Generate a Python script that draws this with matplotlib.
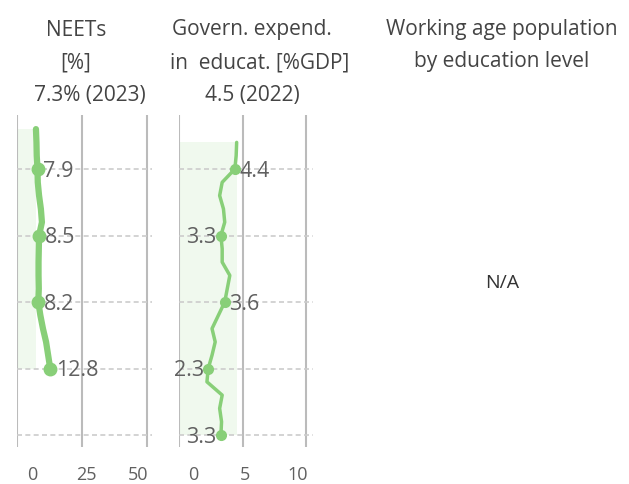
import numpy as np
import matplotlib
matplotlib.use("Agg")
import matplotlib.pyplot as plt

plt.rcParams['font.family'] = ['Open Sans', 'DejaVu Sans']

# NEETs [%], 2005-2023
neet_years = list(range(2005, 2024))
neet_vals = [12.8, 12.0, 11.2, 10.0, 9.0, 8.2, 8.4, 8.3, 8.3, 8.4,
             8.5, 9.6, 9.2, 8.5, 8.0, 7.9, 7.6, 7.5, 7.3]
neet_mark_years = [2005, 2010, 2015, 2020]
neet_mark_vals = [12.8, 8.2, 8.5, 7.9]

# government expenditure on education [%GDP], 2000-2022
edu_years = list(range(2000, 2023))
edu_vals = [3.3, 3.35, 3.2, 3.4, 2.2, 2.3, 2.6, 2.85, 2.6, 3.1, 3.6, 3.8,
            4.0, 3.4, 3.4, 3.3, 3.6, 3.5, 3.2, 3.4, 4.4, 4.5, 4.54]
edu_mark_years = [2000, 2005, 2010, 2015, 2020]
edu_mark_vals = [3.3, 2.3, 3.6, 3.3, 4.4]
edu_label_side = ['left', 'left', 'right', 'left', 'right']

grid_years = [2000, 2005, 2010, 2015, 2020]
green = '#88cf78'
txt = '#606060'

W, H = 629, 484
fig = plt.figure(figsize=(W / 100, H / 100), dpi=100)


def px_axes(x0, x1, y0, y1):
    return fig.add_axes([x0 / W, 1 - y1 / H, (x1 - x0) / W, (y1 - y0) / H])


def style(ax, xticks, xmax):
    ax.set_xlim(0, xmax)
    ax.set_ylim(1999.1, 2024.06)
    for s in ax.spines.values():
        s.set_visible(False)
    ax.set_xticks([])
    ax.set_yticks([])
    for x in xticks:
        ax.axvline(x, color='#bbbbbb', lw=1.5, zorder=1)
    for y in grid_years:
        ax.axhline(y, color='#cccccc', lw=1.2, ls=(0, (3, 2)), zorder=1)


# panel 1 (shade spans from 0 to the latest value)
ax1 = px_axes(17, 152, 115, 447)
style(ax1, [0, 25, 50], 52)
ax1.fill_betweenx([min(neet_years), max(neet_years)], 0, neet_vals[-1],
                  color=green, alpha=0.12, lw=0, zorder=0)
ax1.plot(neet_vals, neet_years, color=green, lw=4.5, solid_capstyle='round', zorder=3)
ax1.plot(neet_mark_vals, neet_mark_years, 'o', color=green, ms=9, zorder=4)
for v, y in zip(neet_mark_vals, neet_mark_years):
    ax1.annotate(f'{v}', (v, y), xytext=(4, -1.5), textcoords='offset points',
                 ha='left', va='center', fontsize=15.5, color=txt, zorder=5)

# panel 2
ax2 = px_axes(179, 313, 115, 447)
style(ax2, [0, 5, 10], 10.55)
ax2.fill_betweenx([min(edu_years), max(edu_years)], 0, edu_vals[-1],
                  color=green, alpha=0.12, lw=0, zorder=0)
ax2.plot(edu_vals, edu_years, color=green, lw=2.5, solid_capstyle='round', zorder=3)
ax2.plot(edu_mark_vals, edu_mark_years, 'o', color=green, ms=7, zorder=4)
for v, y, side in zip(edu_mark_vals, edu_mark_years, edu_label_side):
    dx = 3 if side == 'right' else -3
    ax2.annotate(f'{v}', (v, y), xytext=(dx, -1.5), textcoords='offset points',
                 ha='left' if side == 'right' else 'right', va='center',
                 fontsize=15.5, color=txt, zorder=5)

# axis labels at the bottom
for lab, x in zip(['0', '25', '50'], [32, 86, 138]):
    fig.text(x / W, 1 - 475 / H, lab, ha='center', va='center', fontsize=13, color=txt)
for lab, x in zip(['0', '5', '10'], [193, 245, 298]):
    fig.text(x / W, 1 - 475 / H, lab, ha='center', va='center', fontsize=13, color=txt)

# titles
title_col = '#444444'
fs = 15
fig.text(76 / W, 1 - 30 / H, 'NEETs', ha='center', va='center', fontsize=fs, color=title_col)
fig.text(76 / W, 1 - 63 / H, '[%]', ha='center', va='center', fontsize=fs, color=title_col)
fig.text(90 / W, 1 - 96 / H, '7.3% (2023)', ha='center', va='center', fontsize=fs, color=title_col)
fig.text(252 / W, 1 - 30 / H, 'Govern. expend.', ha='center', va='center', fontsize=fs, color=title_col)
fig.text(260 / W, 1 - 63 / H, 'in  educat. [%GDP]', ha='center', va='center', fontsize=fs, color=title_col)
fig.text(252 / W, 1 - 96 / H, '4.5 (2022)', ha='center', va='center', fontsize=fs, color=title_col)
fig.text(502 / W, 1 - 30 / H, 'Working age population', ha='center', va='center', fontsize=fs, color=title_col)
fig.text(502 / W, 1 - 62 / H, 'by education level', ha='center', va='center', fontsize=fs, color=title_col)
fig.text(502 / W, 1 - 283 / H, 'N/A', ha='center', va='center', fontsize=14, color='#333333')

fig.savefig('out.png', dpi=100)
